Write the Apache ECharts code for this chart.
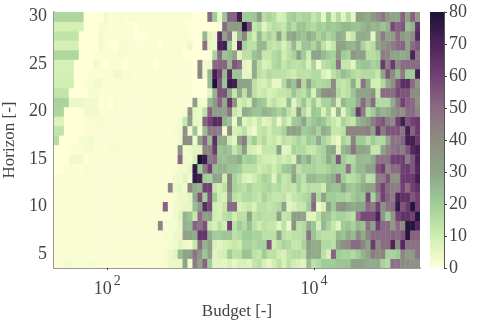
<!DOCTYPE html>
<html>
<head>
<meta charset="utf-8">
<style>
html,body{margin:0;padding:0;background:#fff;}
#main{width:480px;height:320px;}
</style>
<script src="https://cdn.jsdelivr.net/npm/echarts@6/dist/echarts.min.js"></script>
</head>
<body>
<div id="main"></div>
<script>
// cell edges along the budget axis
var budgetEdges = [30.5,34.05,38,42.4,47.4,52.9,59,65.9,73.6,82.2,91.8,102.5,114,128,143,159,178,199,222,247,276,308.5,344,385,429,479,535,597,667,745,832,929,1037,1157,1292,1443,1611,1798,2008,2241,2503,2795,3120,3483,3888,4342,4847,5411,6041,6744,7535,8412,9391,10484,11704,13070,14590,16290,18190,20300,22690,25330,28280,31570,35240,39360,43940,49060,54770,61140,68290,76240,85110,95020,106100];
var horizons = ['4','5','6','7','8','9','10','11','12','13','14','15','16','17','18','19','20','21','22','23','24','25','26','27','28','29','30'];
var xTicks = [100,10000];
var barTicks = [0,10,20,30,40,50,60,70,80];
var colors = ['#ffffd8','#cfeeb0','#a0cc98','#8ea388','#8e8c82','#8a6b84','#724173','#4e2359','#1c1238'];

var row30 = [17,17,17,17,17,17,0,0,0,0,3,1,1,2,1,2,2,1,1,1,1,1,1,1,1,1,1,1, 0,0,0,50,20,4,22,52,52,72,20,20,21,32,15,18,15,8,10,18,20,16,18, 18,12,16,5,20,7,16,6,15,5,31,30,28,34,40,46,35,30,30,52,30,52,32];
var row29 = [9,9,9,9,9,9,0,0,0,2,2,1,1,1,1,1,0,1,1,1,1,1,1,1,1,1,1,0, 0,0,0,0,0,1,50,32,33,32,78,57,12,15,6,12,15,14,12,20,15,22,22, 18,16,20,18,22,20,22,25,25,23,22,25,28,25,26,22,26,58,52,55,23,26,64];
var row28 = [13,13,13,13,13,0,0,0,0,3,1,1,1,1,1,1,0,0,0,1,1,1,1,1,1,1,2,1, 0,0,25,6,4,65,30,48,5,25,42,16,10,25,14,18,14,30,14,28,30,25,22, 28,25,18,22,17,20,28,26,8,12,28,28,27,5,28,45,30,33,50,35,30,40,68];
var row27 = [9,9,9,9,9,0,0,0,0,3,1,0,0,2,2,1,1,1,1,1,1,0,1,1,1,1,1,4, 0,0,48,5,4,70,72,20,5,68,18,14,14,25,25,14,12,14,8,14,25,12,22, 22,17,25,14,7,12,30,30,26,25,30,18,12,15,30,38,40,45,50,52,30,50,54];
var row26 = [17,17,17,17,17,0,0,0,1,1,1,1,1,2,1,1,1,1,1,1,1,1,1,1,1,1,0,0, 0,0,0,0,18,50,22,25,30,6,14,14,22,25,12,12,16,18,10,14,18,32,20, 10,30,30,25,20,18,35,20,18,35,30,32,15,15,17,45,42,30,30,28,30,70,46];
var row25 = [9,9,9,9,0,0,0,0,3,1,0,1,1,1,0,1,1,1,1,1,0,1,1,1,1,1,1,1, 0,40,3,3,50,52,52,25,55,50,6,4,28,14,8,10,16,18,12,16,14,14,16, 8,18,3,14,16,18,48,12,12,6,20,22,22,18,20,62,45,62,40,50,50,50,50];
var row24 = [9,9,9,9,0,0,0,1,1,1,1,1,3,3,1,2,1,1,1,1,1,1,1,1,1,1,1,1, 0,42,3,25,72,60,25,68,22,22,5,5,28,14,12,16,14,14,14,12,10,14,14, 14,16,16,8,5,14,18,24,20,16,14,16,16,16,12,30,55,40,25,45,20,20,72];
var row23 = [10,10,10,10,0,0,1,1,3,3,1,1,1,1,1,1,1,1,1,1,1,1,1,1,1,1,1,1, 0,0,0,24,80,55,22,75,72,30,30,30,14,10,8,12,5,5,16,28,22,42,16, 30,18,16,17,18,40,14,12,15,28,12,48,28,10,9,16,28,38,55,66,66,50,34];
var row22 = [13,13,13,0,0,0,0,2,2,1,1,1,1,1,1,1,1,1,1,1,1,1,1,1,1,1,1,1, 0,0,0,6,26,56,56,28,12,28,14,30,14,10,12,8,10,12,12,14,22,16,14, 22,8,26,38,40,38,16,12,14,22,30,30,30,36,12,50,50,50,58,55,55,40,40];
var row21 = [18,18,18,4,4,4,3,3,3,0,1,0,2,1,1,1,1,1,1,1,1,1,1,1,1,1,1,1, 32,3,2,25,34,52,28,64,38,10,12,8,28,22,20,10,14,10,8,24,6,14,22, 12,20,10,18,18,25,8,25,20,20,28,50,30,50,16,16,16,28,46,60,52,50,38];
var row20 = [17,17,0,0,0,0,3,3,3,1,1,1,1,1,1,1,1,1,1,1,1,1,1,1,1,1,2,35, 5,4,14,52,32,32,30,48,12,8,28,26,22,22,26,25,22,18,22,14,10,35,16, 8,22,20,8,18,4,26,6,18,25,62,45,15,20,30,26,28,36,40,38,50,50,42];
var row19 = [7,7,0,0,0,0,1,1,2,2,1,1,1,1,1,1,1,1,1,1,1,1,1,1,1,2,12,32, 5,5,52,60,68,66,26,22,4,28,6,10,6,12,6,8,14,4,14,8,20,22,30, 18,22,25,22,15,12,8,18,14,12,25,28,32,45,52,55,45,40,60,72,55,60,62];
var row18 = [13,13,0,0,0,0,1,1,1,1,1,1,1,1,1,1,1,1,1,1,1,1,1,1,2,3,38,3, 22,2,24,46,46,44,3,40,8,10,14,6,3,12,14,10,14,14,18,30,32,30,20, 22,25,18,28,25,12,12,14,42,42,42,42,45,30,62,45,55,55,55,48,72,52,62];
var row17 = [15,0,0,0,0,2,2,3,1,1,1,1,1,1,1,1,1,1,1,1,1,1,1,1,1,3,40,40, 3,30,52,24,66,28,28,10,6,32,45,14,20,12,16,10,12,8,14,12,14,18,14, 20,18,28,18,14,8,4,18,14,42,20,20,14,20,16,16,28,48,46,52,72,72,62];
var row16 = [0,0,0,1,1,1,2,2,1,1,1,2,2,1,1,1,1,1,1,1,1,1,1,1,1,38,3,4, 6,6,42,42,62,22,24,22,12,18,32,10,8,5,12,12,12,32,6,7,18,16,16, 12,12,16,18,28,30,8,25,28,48,30,30,28,12,12,30,42,48,50,45,55,68,72];
var row15 = [0,0,0,3,3,3,0,1,1,1,1,1,1,1,1,1,1,1,1,1,1,1,1,1,1,50,4,3, 8,80,74,45,50,24,22,25,25,28,18,20,18,12,10,10,8,12,10,12,8,30,22, 28,18,16,18,28,22,55,20,16,16,25,24,24,28,48,48,48,60,60,60,45,55,70];
var row14 = [0,0,1,1,1,1,2,1,1,1,1,1,1,1,1,1,1,1,1,1,1,1,1,1,2,3,3,5, 76,20,45,60,24,26,26,22,22,20,14,14,14,10,12,14,10,14,20,22,28,14,18, 18,18,16,16,18,22,20,20,48,18,25,25,30,30,55,60,40,50,50,60,62,55,68];
var row13 = [1,1,1,1,1,1,1,1,1,1,1,1,1,1,1,1,1,1,1,1,1,1,1,1,3,3,6,3, 76,72,20,18,30,30,10,42,18,14,8,6,10,14,18,16,6,18,12,14,30,18,14, 25,25,22,22,25,28,48,20,14,15,18,25,14,15,45,45,55,38,38,62,62,62,72];
var row12 = [1,1,1,1,1,1,1,1,1,1,1,1,1,1,1,1,1,1,1,1,1,1,1,42,4,5,3,42, 28,26,60,60,12,10,14,42,18,16,14,18,14,14,16,18,14,16,12,14,12,18,12, 15,14,14,10,25,22,22,30,22,20,24,28,30,30,50,60,50,45,45,60,50,60,65];
var row11 = [1,1,1,1,1,1,1,1,1,1,1,1,1,1,1,1,1,1,1,1,1,1,1,1,2,4,4,6, 28,56,20,56,20,10,8,34,14,12,16,16,14,12,18,14,12,12,14,8,12,14,16, 18,45,16,30,20,20,18,18,16,20,24,22,58,18,40,60,52,45,70,65,65,55,60];
var row10 = [1,1,1,1,1,1,1,1,1,1,1,1,1,1,1,1,1,1,1,1,1,1,52,1,3,4,5,5, 24,32,66,58,10,8,12,50,50,8,10,12,8,14,14,12,14,16,30,6,8,12,12, 20,50,3,8,30,20,35,38,30,28,30,30,50,45,60,38,48,50,75,55,62,78,60];
var row9 = [1,1,1,1,1,1,1,1,1,1,1,1,1,1,1,1,1,1,1,1,1,1,1,1,3,6,26,22, 12,50,32,34,10,8,14,16,10,14,14,30,14,16,14,14,14,30,12,14,32,32,30, 6,6,14,24,22,16,18,18,16,14,48,58,58,58,70,35,20,35,60,65,65,60,78];
var row8 = [1,1,1,1,1,1,1,1,1,1,1,1,1,1,1,1,1,1,1,1,1,42,1,2,2,4,26,25, 52,48,56,12,8,14,10,60,14,20,16,24,14,10,14,12,12,6,14,4,38,14,16, 28,22,8,25,18,12,6,20,22,18,25,22,48,30,60,50,50,35,50,40,78,78,68];
var row7 = [1,1,1,1,1,1,1,1,1,1,1,1,1,1,1,1,1,1,1,1,1,1,2,2,4,4,30,30, 28,64,64,28,20,20,22,22,14,16,20,20,18,18,14,14,14,30,14,12,14,14,16, 48,22,16,14,14,14,25,22,28,24,40,28,42,50,50,50,50,52,50,55,78,52,52];
var row6 = [1,1,1,1,1,1,1,1,1,1,1,1,1,1,1,1,1,1,1,1,1,1,1,2,3,6,4,3, 12,50,26,32,8,6,8,10,12,10,18,18,16,18,18,55,10,14,18,16,12,12,18, 32,28,28,16,16,14,30,38,40,50,50,42,30,62,40,50,50,70,40,68,48,48,48];
var row5 = [1,1,1,1,1,1,1,1,1,1,1,1,1,1,1,1,1,1,1,1,1,1,2,4,6,24,30,30, 48,36,22,30,6,8,10,20,14,14,22,22,14,12,20,14,14,10,8,14,16,16,14, 30,28,28,14,8,52,20,18,18,16,20,26,30,45,40,42,18,18,20,42,33,34,48];
var row4 = [1,1,2,2,1,1,2,2,1,1,1,1,1,1,1,1,1,1,1,1,1,1,2,4,4,4,30,3, 45,30,52,20,6,6,5,8,5,8,8,6,12,14,8,5,10,14,8,14,10,8,6, 24,14,16,20,20,20,22,22,22,30,30,30,28,28,28,18,16,48,48,40,40,38,38];

var rows = [row4,row5,row6,row7,row8,row9,row10,row11,row12,row13,row14,row15,row16,row17,row18,row19,row20,row21,row22,row23,row24,row25,row26,row27,row28,row29,row30];

var cells = [];
for(var r = 0; r < rows.length; r ++){
	for(var c = 0; c < rows[r].length; c ++){
		cells.push([budgetEdges[c],budgetEdges[c+1],r,rows[r][c]]);
	}
}

var stops = [];
for(var i = 0; i < colors.length; i ++){
	stops.push({offset:i/(colors.length-1),color:colors[i]});
}

var font = 'Liberation Serif';
var ink = '#444';

function drawCell(params,api){
	var a = api.coord([api.value(0),api.value(2)]);
	var b = api.coord([api.value(1),api.value(2)]);
	var h = api.size([1,1])[1];
	return {
		type:'rect',
		shape:{x:a[0],y:a[1]-h/2,width:b[0]-a[0]+0.4,height:h+0.4},
		style:{fill:api.visual('color')}
	};
}

var chart = echarts.init(document.getElementById('main'));
chart.setOption({
	animation:false,
	backgroundColor:'#fff',
	textStyle:{fontFamily:font},
	grid:[
		{left:54,top:12,width:366,height:256,outerBoundsMode:'none'},
		{left:430,top:12,width:14,height:256,outerBoundsMode:'none'}
	],
	xAxis:[{
		type:'log',
		gridIndex:0,
		logBase:10,
		min:budgetEdges[0],
		max:budgetEdges[budgetEdges.length-1],
		name:'Budget [-]',
		nameLocation:'middle',
		nameGap:30,
		nameTextStyle:{color:ink,fontSize:17,fontFamily:font},
		axisLine:{show:true,lineStyle:{color:'#777',width:1.5}},
		axisTick:{show:true,length:2,customValues:xTicks,lineStyle:{color:'#444'}},
		splitLine:{show:false},
		minorTick:{show:false},
		axisLabel:{
			customValues:xTicks,
			margin:4,
			color:ink,
			fontFamily:font,
			formatter:function(v){
				return '{b|10}{s|'+Math.round(Math.log(v)/Math.LN10)+'}';
			},
			rich:{
				b:{fontSize:18,color:ink,fontFamily:font,padding:[8,0,0,0]},
				s:{fontSize:14,color:ink,fontFamily:font,padding:[0,0,8,2]}
			}
		}
	},{
		type:'category',
		gridIndex:1,
		data:[''],
		show:false
	}],
	yAxis:[{
		type:'category',
		gridIndex:0,
		data:horizons,
		name:'Horizon [-]',
		nameLocation:'middle',
		nameGap:33,
		nameTextStyle:{color:ink,fontSize:17,fontFamily:font},
		axisLine:{show:true,lineStyle:{color:'#777',width:1.5}},
		axisTick:{show:false},
		axisLabel:{
			color:ink,
			fontSize:18,
			fontFamily:font,
			margin:7,
			interval:function(i,v){
				return Number(v)%5 == 0;
			}
		}
	},{
		type:'value',
		gridIndex:1,
		position:'right',
		min:barTicks[0],
		max:barTicks[barTicks.length-1],
		interval:10,
		splitLine:{show:false},
		axisLine:{show:true,lineStyle:{color:'#555',width:1}},
		axisTick:{show:true,length:3,lineStyle:{color:'#444'}},
		axisLabel:{color:ink,fontSize:18,fontFamily:font,margin:5}
	}],
	visualMap:{
		show:false,
		seriesIndex:0,
		dimension:3,
		min:barTicks[0],
		max:barTicks[barTicks.length-1],
		inRange:{color:colors}
	},
	series:[{
		type:'custom',
		xAxisIndex:0,
		yAxisIndex:0,
		clip:true,
		renderItem:drawCell,
		encode:{x:[0,1],y:2},
		data:cells
	},{
		type:'bar',
		xAxisIndex:1,
		yAxisIndex:1,
		barWidth:'100%',
		silent:true,
		itemStyle:{color:new echarts.graphic.LinearGradient(0,1,0,0,stops)},
		data:[barTicks[barTicks.length-1]]
	}]
});
</script>
</body>
</html>
